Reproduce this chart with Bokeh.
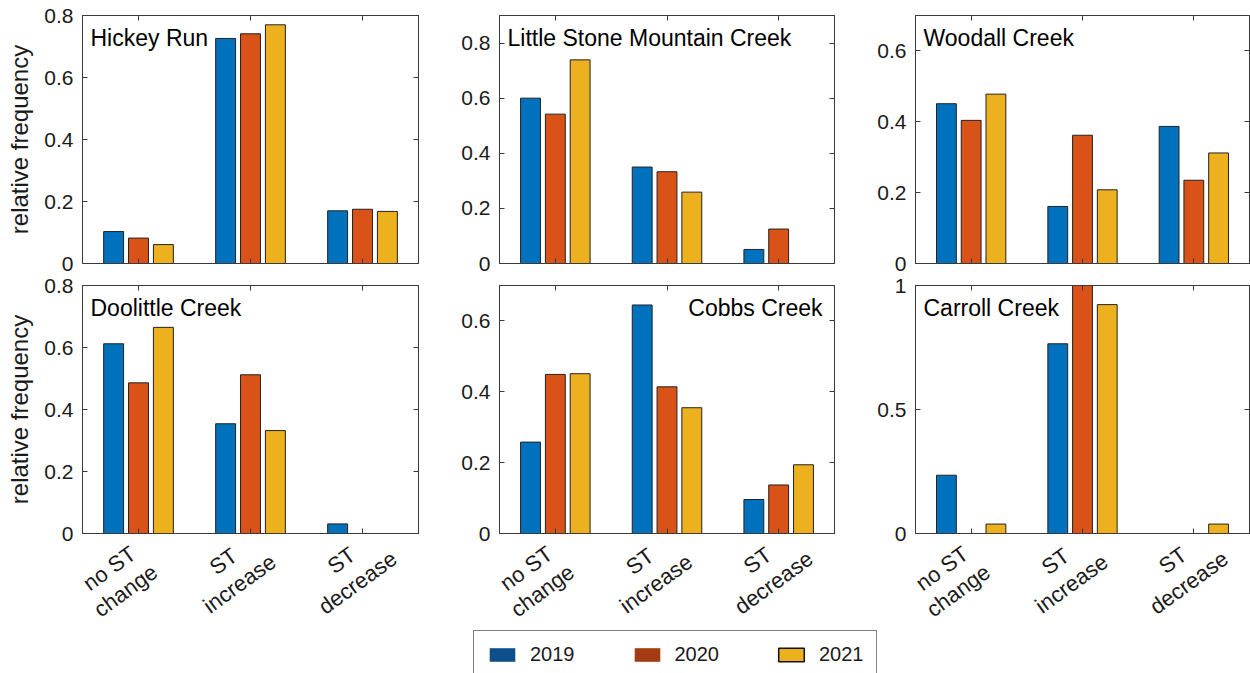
import math

from bokeh.core.properties import value
from bokeh.embed import file_html
from bokeh.layouts import column, row
from bokeh.models import (ColumnDataSource, FixedTicker, Label, Legend,
                          LegendItem, LinearAxis, Range1d)
from bokeh.plotting import figure
from bokeh.resources import INLINE

# ---------------------------------------------------------------- data
categories = ["no ST\nchange", "ST\nincrease", "ST\ndecrease"]
years = ["2019", "2020", "2021"]

# relative frequency per category, one list per year
hickey_run_2019 = [0.103, 0.726, 0.170]
hickey_run_2020 = [0.082, 0.741, 0.175]
hickey_run_2021 = [0.061, 0.770, 0.168]

little_stone_2019 = [0.600, 0.350, 0.051]
little_stone_2020 = [0.542, 0.333, 0.125]
little_stone_2021 = [0.739, 0.259, 0.0]

woodall_2019 = [0.451, 0.161, 0.387]
woodall_2020 = [0.404, 0.362, 0.235]
woodall_2021 = [0.478, 0.208, 0.312]

doolittle_2019 = [0.612, 0.354, 0.031]
doolittle_2020 = [0.486, 0.512, 0.0]
doolittle_2021 = [0.665, 0.332, 0.0]

cobbs_2019 = [0.258, 0.645, 0.096]
cobbs_2020 = [0.449, 0.414, 0.137]
cobbs_2021 = [0.451, 0.355, 0.194]

carroll_2019 = [0.235, 0.765, 0.0]
carroll_2020 = [0.0, 1.0, 0.0]
carroll_2021 = [0.038, 0.923, 0.038]

site_names = ["Hickey Run", "Little Stone Mountain Creek", "Woodall Creek",
              "Doolittle Creek", "Cobbs Creek", "Carroll Creek"]
y_limits = [0.8, 0.9, 0.7, 0.8, 0.7, 1.0]
y_tick_values = [
    [0, 0.2, 0.4, 0.6, 0.8],
    [0, 0.2, 0.4, 0.6, 0.8],
    [0, 0.2, 0.4, 0.6],
    [0, 0.2, 0.4, 0.6, 0.8],
    [0, 0.2, 0.4, 0.6],
    [0, 0.5, 1],
]
y_tick_labels = [
    ["0", "0.2", "0.4", "0.6", "0.8"],
    ["0", "0.2", "0.4", "0.6", "0.8"],
    ["0", "0.2", "0.4", "0.6"],
    ["0", "0.2", "0.4", "0.6", "0.8"],
    ["0", "0.2", "0.4", "0.6"],
    ["0", "0.5", "1"],
]

# ---------------------------------------------------------------- style
BAR_COLORS = ["#0072BD", "#D95319", "#EDB120"]
KEY_COLORS = ["#0E4F8B", "#A33B13", "#EDB120"]
KEY_LINES = [None, None, "#111111"]
AXIS_COLOR = "#3a3a3a"
TEXT_COLOR = "#1a1a1a"
FONT = "Liberation Sans"
BAR_OFFSETS = [-0.2222, 0.0, 0.2222]
BAR_WIDTH = 0.178
CAT_POS = [1, 2, 3]
X_START, X_END = 0.5, 3.5
# rotated category labels: block-centre shift (px) from each tick,
# y measured downwards from the bottom axis line
CAT_LABEL_DX = [-21, -19, -13]
CAT_LABEL_DY = [46, 39, 38]
CAT_LABEL_ANGLE = math.radians(36)
STRIP_OVERLAP = 12


def style_axis(ax, ticks, labels, show_labels, font_size="21px"):
    ax.ticker = FixedTicker(ticks=ticks)
    ax.major_label_overrides = {t: s for t, s in zip(ticks, labels)}
    ax.major_tick_in = 5
    ax.major_tick_out = 0
    ax.minor_tick_line_color = None
    ax.axis_line_color = AXIS_COLOR
    ax.major_tick_line_color = AXIS_COLOR
    ax.major_label_text_font = FONT
    if show_labels:
        ax.major_label_text_color = TEXT_COLOR
        ax.major_label_text_font_size = font_size
        ax.major_label_standoff = 9
    else:
        ax.major_label_text_color = None
        ax.major_label_text_font_size = "1px"
        ax.major_label_standoff = 0


def panel(idx, series, width, height, borders, y_title, title_right=False):
    left, right, top, bottom = borders
    ymax = y_limits[idx]
    p = figure(width=width, height=height,
               x_range=Range1d(X_START, X_END), y_range=Range1d(0, ymax),
               output_backend="svg", toolbar_location=None,
               min_border_left=left, min_border_right=right,
               min_border_top=top, min_border_bottom=bottom,
               background_fill_color="white", border_fill_color="white")
    p.xgrid.visible = False
    p.ygrid.visible = False
    p.outline_line_color = AXIS_COLOR

    for k, vals in enumerate(series):
        src = ColumnDataSource(dict(
            x=[c + BAR_OFFSETS[k] for c in CAT_POS],
            top=vals,
        ))
        p.vbar(x="x", top="top", width=BAR_WIDTH, source=src,
               fill_color=BAR_COLORS[k], line_color="#222222", line_width=1)

    style_axis(p.xaxis[0], CAT_POS, categories, False)
    style_axis(p.yaxis[0], y_tick_values[idx], y_tick_labels[idx], True)
    if y_title:
        p.yaxis[0].axis_label = "relative frequency"
        p.yaxis[0].axis_label_text_font = FONT
        p.yaxis[0].axis_label_text_font_size = "24px"
        p.yaxis[0].axis_label_text_font_style = "normal"
        p.yaxis[0].axis_label_text_color = TEXT_COLOR
        p.yaxis[0].axis_label_standoff = 8

    # mirrored ticks on the top and right edges of the box
    top_ax = LinearAxis()
    style_axis(top_ax, CAT_POS, ["", "", ""], False)
    p.add_layout(top_ax, "above")
    right_ax = LinearAxis()
    style_axis(right_ax, y_tick_values[idx], ["" for _ in y_tick_values[idx]], False)
    p.add_layout(right_ax, "right")

    if title_right:
        lbl = Label(x=X_END, y=ymax, x_offset=-12, y_offset=-9, text=site_names[idx],
                    text_align="right", text_baseline="top")
    else:
        lbl = Label(x=X_START, y=ymax, x_offset=8, y_offset=-9, text=site_names[idx],
                    text_align="left", text_baseline="top")
    lbl.text_font = FONT
    lbl.text_font_size = "23px"
    lbl.text_color = "black"
    p.add_layout(lbl)
    return p


def category_strip(width, height, left, right):
    """Rotated two-line category names on a transparent strip that spans the
    whole column; its x range is widened so the ticks line up with the panel."""
    per_px = (X_END - X_START) / (width - left - right)
    s = figure(width=width, height=height,
               x_range=Range1d(X_START - left * per_px, X_END + right * per_px),
               y_range=Range1d(0, 1),
               output_backend="svg", toolbar_location=None,
               min_border=0, min_border_left=0, min_border_right=0,
               min_border_top=0, min_border_bottom=0,
               background_fill_color=None, border_fill_color=None)
    s.axis.visible = False
    s.xgrid.visible = False
    s.ygrid.visible = False
    s.outline_line_color = None
    src = ColumnDataSource(dict(x=CAT_POS, y=[1, 1, 1], text=categories,
                                dx=CAT_LABEL_DX, dy=CAT_LABEL_DY))
    s.text(x="x", y="y", text="text", x_offset="dx", y_offset="dy", source=src,
           angle=CAT_LABEL_ANGLE, text_align="center", text_baseline="middle",
           text_font=value(FONT), text_font_size="22px", text_color=TEXT_COLOR,
           text_line_height=1.1)
    return s


top_h, bot_h, strip_h = 274, 271, 92
p1 = panel(0, [hickey_run_2019, hickey_run_2020, hickey_run_2021],
           450, top_h, (82, 32, 15, 11), True)
p2 = panel(1, [little_stone_2019, little_stone_2020, little_stone_2021],
           416, top_h, (49, 32, 15, 11), False)
p3 = panel(2, [woodall_2019, woodall_2020, woodall_2021],
           384, top_h, (49, 1, 15, 11), False)
p4 = panel(3, [doolittle_2019, doolittle_2020, doolittle_2021],
           450, bot_h, (82, 32, 11, STRIP_OVERLAP), True)
p5 = panel(4, [cobbs_2019, cobbs_2020, cobbs_2021],
           416, bot_h, (49, 32, 11, STRIP_OVERLAP), False, title_right=True)
p6 = panel(5, [carroll_2019, carroll_2020, carroll_2021],
           384, bot_h, (49, 1, 11, STRIP_OVERLAP), False)

s4 = category_strip(450, strip_h, 82, 32)
s5 = category_strip(416, strip_h, 49, 32)
s6 = category_strip(384, strip_h, 49, 1)
strips = row(s4, s5, s6)
strips.margin = (-STRIP_OVERLAP, 0, 0, 0)

# shared key for the three years (its proxy bars sit below the visible range)
key = figure(width=1250, height=48, x_range=Range1d(0, 1), y_range=Range1d(0, 1),
             output_backend="svg", toolbar_location=None,
             min_border=0, min_border_left=0, min_border_right=0,
             min_border_top=0, min_border_bottom=0)
key.axis.visible = False
key.xgrid.visible = False
key.ygrid.visible = False
key.outline_line_color = None
items = []
for k, yr in enumerate(years):
    r = key.vbar(x=[0.5], top=[-1.0], bottom=[-2.0], width=0.1,
                 fill_color=KEY_COLORS[k], line_color=KEY_LINES[k], line_width=1.5)
    items.append(LegendItem(label=value(yr), renderers=[r]))
legend = Legend(items=items, orientation="horizontal", location=(473, -6),
                glyph_width=32, glyph_height=17, label_standoff=12, spacing=56,
                padding=12, margin=0, border_line_color="black", border_line_width=1.2,
                label_text_font=FONT, label_text_font_size="20px",
                label_text_color=TEXT_COLOR, background_fill_alpha=1)
key.add_layout(legend)

layout = column(row(p1, p2, p3), row(p4, p5, p6), strips, key)

open("out.html", "w").write(file_html(layout, INLINE))
